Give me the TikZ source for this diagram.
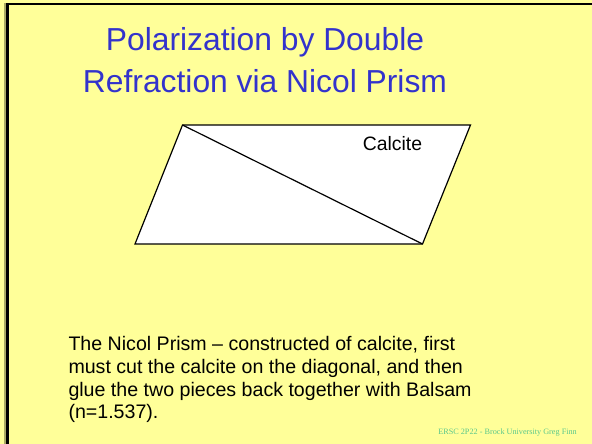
\documentclass[tikz,border=0pt]{standalone}
\usepackage{fontspec}
\setmainfont{Liberation Sans}
\newfontfamily\footfont{Liberation Serif}
\definecolor{slidebg}{RGB}{255,255,153}
\definecolor{titleblue}{RGB}{51,51,204}
\definecolor{footgreen}{RGB}{90,200,140}
\definecolor{olive}{RGB}{170,170,100}
\begin{document}
\begin{tikzpicture}[x=1pt,y=-1pt,
  titletext/.style={anchor=base, text=titleblue, font=\fontsize{31.8}{36}\selectfont, inner sep=0pt},
  bodytext/.style={anchor=base west, font=\fontsize{19.6}{23}\selectfont, inner sep=0pt},
  prismline/.style={draw=black, line width=1.2pt, line join=miter}]
\useasboundingbox (0,0) rectangle (592,444);
\fill[slidebg] (0,0) rectangle (592,444);
% frame
\fill[olive] (4,3) rectangle (6,444);
\fill[black] (6,3) rectangle (592,5.5);
\fill[black] (6,3) rectangle (8.5,444);
% title
\node[titletext] (t1) at (265,50.5) {Polarization by Double};
\node[titletext] (t2) at (265,92.5) {Refraction via Nicol Prism};
% prism
\coordinate (tl) at (182.5,125);
\coordinate (tr) at (470.5,125);
\coordinate (br) at (422.5,244);
\coordinate (bl) at (135,244);
\fill[white] (tl) -- (tr) -- (br) -- (bl) -- cycle;
\draw[prismline] (tl) -- (tr) -- (br) -- (bl) -- cycle;
\draw[prismline] (tl) -- (br);
\node[anchor=base, font=\fontsize{19.4}{23}\selectfont, inner sep=0pt] (calc) at (392.5,150.5) {Calcite};
% body
\node[bodytext] (b1) at (68.3,350.5) {The Nicol Prism – constructed of calcite, first};
\node[bodytext] (b2) at (68.3,373.3) {must cut the calcite on the diagonal, and then};
\node[bodytext] (b3) at (68.3,396.1) {glue the two pieces back together with Balsam};
\node[bodytext] (b4) at (68.3,418.9) {(n=1.537).};
% footer
\node[anchor=base east, text=footgreen, font=\footfont\fontsize{8.2}{10}\selectfont, inner sep=0pt] (foot) at (577,434) {ERSC 2P22 - Brock University Greg Finn};
\end{tikzpicture}
\end{document}
